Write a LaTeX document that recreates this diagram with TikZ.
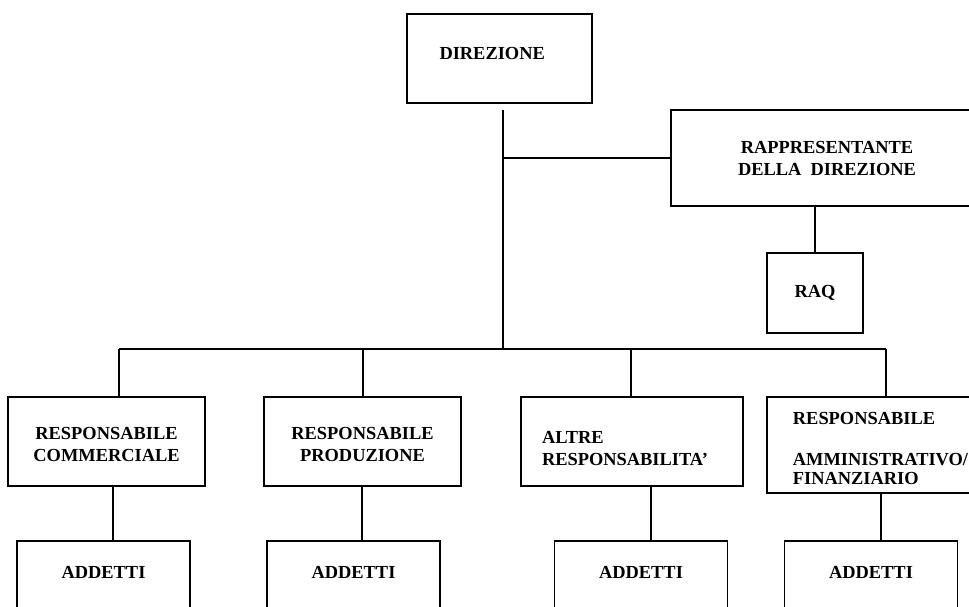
\documentclass[tikz,border=0pt]{standalone}
\usepackage{fontspec}
\setmainfont{Liberation Serif}
\begin{document}
\begin{tikzpicture}
[x=1pt,y=-1pt,line width=1.5pt,%
  every node/.style={shape=rectangle,draw,line width=1.5pt,inner sep=0pt,font=\bfseries},%
  resp/.style={minimum width=197,minimum height=89,text height=41pt},%
  addetti/.style={minimum width=173,minimum height=90,text depth=28pt}]
\fontsize{18.4}{22}\selectfont
\useasboundingbox (0,0) rectangle (969,607);
\clip (0,0) rectangle (969,607);
\node[minimum width=185,minimum height=89,text width=120,align=left,text depth=10pt]
  (dir) at (499.5,58.5) {DIREZIONE};
\node[minimum width=312,minimum height=96,align=center] (rapp) at (827,158)
  {RAPPRESENTANTE\\DELLA\ \ DIREZIONE};
\node[minimum width=96,minimum height=80] (raq) at (815,293) {RAQ};
\node[resp,align=center] (resp1) at (106.5,441.5) {RESPONSABILE\\COMMERCIALE};
\node[resp,align=center] (resp2) at (362.5,441.5) {RESPONSABILE\\PRODUZIONE};
\node[resp,minimum width=222,align=left,text width=180,text height=26pt] (resp3)
  at (632,441.5) {ALTRE\\RESPONSABILITA'};
\node[resp,minimum width=227,minimum height=96,align=left,text height=80pt] (resp4)
  at (880.5,445) {RESPONSABILE\\[19pt]AMMINISTRATIVO/\\[-3pt]FINANZIARIO};
\node[addetti] (add1) at (103.5,586) {ADDETTI};
\node[addetti] (add2) at (353.5,586) {ADDETTI};
\node[addetti] (add3) at (641,586) {ADDETTI};
\node[addetti] (add4) at (871,586) {ADDETTI};
% trunk and staff line
\coordinate (top) at (503,110);
\coordinate (hub) at (503,349);
\draw (top) -- (hub);
\draw (top |- rapp.west) -- (rapp.west);
\draw (raq.north |- rapp.south) -- (raq.north);
% bus
\foreach \n/\x in {1/119,2/363,3/631,4/886}{
  \coordinate (drop\n) at (\x,349);
  \draw (drop\n) -- (drop\n |- resp\n.north);
}
\draw (drop1) -- (drop4);
\foreach \n/\x in {1/113,2/362,3/651,4/881}{
  \coordinate (link\n) at (\x,0);
  \draw (link\n |- resp\n.south) -- (link\n |- add\n.north);
}
\end{tikzpicture}
\end{document}
